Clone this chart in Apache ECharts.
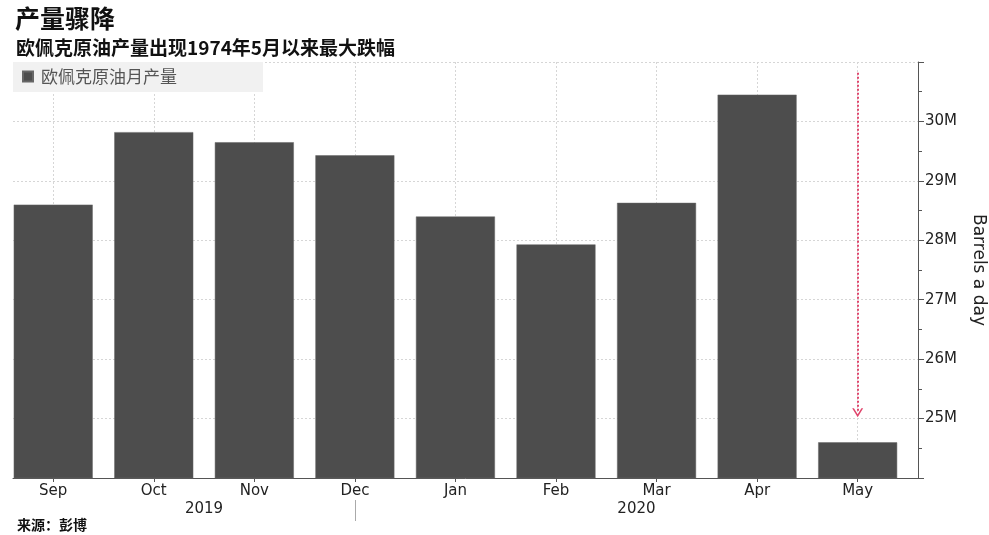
<!DOCTYPE html>
<html>
<head>
<meta charset="utf-8">
<script src="https://cdn.jsdelivr.net/npm/echarts@6/dist/echarts.min.js"></script>
<style>
html, body { margin: 0; padding: 0; background: #fff; }
#chart { width: 989px; height: 535px; }
</style>
</head>
<body>
<div id="chart"></div>
<script>
// 月份和产量（百万桶/日）
var months = ['Sep', 'Oct', 'Nov', 'Dec', 'Jan', 'Feb', 'Mar', 'Apr', 'May'];
var output = [28.6, 29.82, 29.65, 29.43, 28.4, 27.93, 28.63, 30.45, 24.6];
var yearLabels = ['2019', '2020'];
var yearPos = [1.5, 5.8];
var yearBreak = [3];
var yTicks = [25, 26, 27, 28, 29, 30];
// 红色箭头：从顶部指向五月
var arrowX = 8;
var arrowFrom = 30.82;
var arrowTo = 25.1;

var CJK = '"Noto Sans CJK SC", sans-serif';
var LAT = '"DejaVu Sans", sans-serif';

var monthIdx = months.map(function(m, i){ return i; });
var barData = output.map(function(v, i){ return [i, v]; });

var chart = echarts.init(document.getElementById('chart'));

var option = {
	animation: false,
	backgroundColor: '#fff',
	title: [
		{
			text: '产量骤降',
			left: 10, top: 1,
			textStyle: { fontFamily: CJK, fontSize: 25, fontWeight: 'bold', color: '#111' }
		},
		{
			text: '欧佩克原油产量出现1974年5月以来最大跌幅',
			left: 11, top: 33,
			textStyle: { fontFamily: CJK, fontSize: 19, fontWeight: 'bold', color: '#111' }
		},
		{
			text: '来源：彭博',
			left: 12, top: 513,
			textStyle: { fontFamily: CJK, fontSize: 14, fontWeight: 'bold', color: '#111' }
		}
	],
	legend: {
		left: 13, top: 62,
		orient: 'horizontal',
		backgroundColor: '#f1f1f1',
		padding: [6, 86, 7, 9],
		itemWidth: 10, itemHeight: 10, itemGap: 6,
		icon: 'rect',
		textStyle: { fontFamily: CJK, fontSize: 17, color: '#555', padding: [0, 0, 0, 3] },
		data: ['欧佩克原油月产量']
	},
	grid: { left: 13, right: 71, top: 62, bottom: 57, outerBoundsMode: 'none', containLabel: false },
	xAxis: [
		{
			type: 'value',
			min: -0.4, max: 8.6,
			axisLine: { show: true, onZero: false, lineStyle: { color: '#555', width: 1 } },
			axisTick: { show: true, customValues: monthIdx, length: 4, lineStyle: { color: '#555' } },
			axisLabel: {
				customValues: monthIdx,
				margin: 6,
				fontFamily: LAT, fontSize: 15, color: '#222',
				formatter: function(v){ return months[Math.round(v)]; }
			},
			splitLine: { show: true, lineStyle: { color: '#d6d6d6', type: [2, 2] } }
		},
		{
			type: 'value',
			position: 'bottom',
			offset: 22,
			min: -0.4, max: 8.6,
			axisLine: { show: false, onZero: false },
			axisTick: { show: true, customValues: yearBreak, length: 21, lineStyle: { color: '#aaa' } },
			axisLabel: {
				customValues: yearPos,
				margin: 2,
				fontFamily: LAT, fontSize: 15, color: '#222',
				formatter: function(v){ return yearLabels[yearPos.indexOf(v)]; }
			},
			splitLine: { show: false }
		}
	],
	yAxis: {
		type: 'value',
		position: 'right',
		min: 24, max: 31, interval: 1,
		name: 'Barrels a day',
		nameLocation: 'middle',
		nameRotate: -90,
		nameGap: 52,
		nameTextStyle: { fontFamily: LAT, fontSize: 17, color: '#222' },
		axisLine: { show: true, onZero: false, lineStyle: { color: '#555', width: 1 } },
		axisTick: { show: true, inside: false, length: 6, lineStyle: { color: '#555' } },
		minorTick: { show: true, splitNumber: 2, length: 4, lineStyle: { color: '#555' } },
		axisLabel: {
			margin: 7,
			fontFamily: LAT, fontSize: 15, color: '#222',
			formatter: function(v){ return yTicks.indexOf(v) >= 0 ? v + 'M' : ''; }
		},
		splitLine: { show: true, lineStyle: { color: '#d6d6d6', type: [2, 2] } }
	},
	series: [
		{
			name: '欧佩克原油月产量',
			type: 'bar',
			barWidth: 79,
			itemStyle: { color: '#4d4d4d', borderColor: '#666', borderWidth: 0.5 },
			data: barData,
			markLine: {
				silent: true,
				symbol: ['none', 'path://M5,0 L10,8 L8.4,8 L5,2.6 L1.6,8 L0,8 Z'],
				symbolSize: [11, 9],
				label: { show: false },
				lineStyle: { color: '#e0456c', width: 2, type: 'dotted' },
				data: [[
					{ coord: [arrowX, arrowFrom] },
					{ coord: [arrowX, arrowTo] }
				]]
			}
		}
	]
};

chart.setOption(option);
</script>
</body>
</html>
